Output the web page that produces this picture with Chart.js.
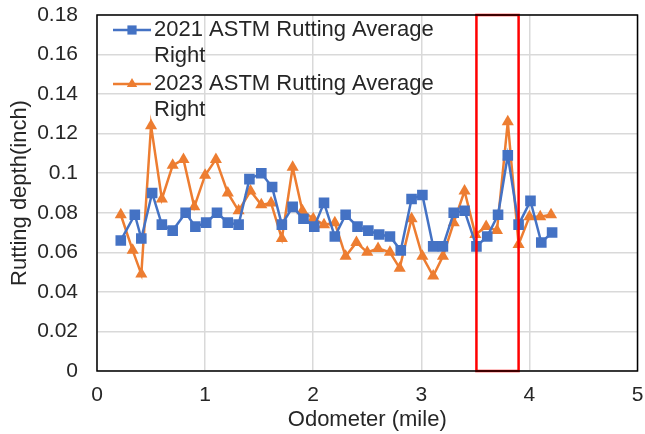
<!DOCTYPE html>
<html>
<head>
<meta charset="utf-8">
<script src="https://cdn.jsdelivr.net/npm/chart.js@4/dist/chart.umd.min.js"></script>
<style>
  html, body { margin: 0; padding: 0; background: #fff; }
  #wrap { width: 645px; height: 434px; }
</style>
</head>
<body>
<div id="wrap"><canvas id="chart"></canvas></div>
<script>
// odometer (mile) and rutting depth (inch)
const odometer2021 = [0.22, 0.35, 0.41, 0.51, 0.60, 0.70, 0.82, 0.91, 1.01, 1.11, 1.21, 1.31, 1.41, 1.52,
  1.62, 1.71, 1.81, 1.91, 2.01, 2.10, 2.20, 2.30, 2.41, 2.51, 2.61, 2.71, 2.81, 2.91, 3.01, 3.11,
  3.20, 3.30, 3.40, 3.51, 3.61, 3.71, 3.80, 3.90, 4.01, 4.11, 4.21];
const rutting2021 = [0.066, 0.079, 0.067, 0.090, 0.074, 0.071, 0.080, 0.073, 0.075, 0.080, 0.075, 0.074, 0.097, 0.100,
  0.093, 0.074, 0.083, 0.077, 0.073, 0.085, 0.068, 0.079, 0.073, 0.071, 0.069, 0.068, 0.061, 0.087, 0.089, 0.063,
  0.063, 0.080, 0.081, 0.063, 0.068, 0.079, 0.109, 0.074, 0.086, 0.065, 0.070];

const odometer2023 = [0.22, 0.33, 0.41, 0.50, 0.60, 0.70, 0.80, 0.90, 1.00, 1.10, 1.21, 1.31, 1.42, 1.52,
  1.61, 1.71, 1.81, 1.90, 2.00, 2.10, 2.20, 2.30, 2.40, 2.50, 2.60, 2.71, 2.80, 2.91, 3.01, 3.11,
  3.20, 3.30, 3.40, 3.50, 3.60, 3.70, 3.80, 3.90, 4.00, 4.10, 4.20];
const rutting2023 = [0.079, 0.061, 0.049, 0.124, 0.087, 0.104, 0.107, 0.083, 0.099, 0.107, 0.090, 0.081, 0.091, 0.084,
  0.085, 0.067, 0.103, 0.081, 0.077, 0.074, 0.075, 0.058, 0.065, 0.060, 0.062, 0.060, 0.052, 0.077, 0.058, 0.048,
  0.058, 0.075, 0.091, 0.069, 0.073, 0.071, 0.126, 0.064, 0.078, 0.078, 0.079];

const seriesLabels = ['2021 ASTM Rutting Average Right', '2023 ASTM Rutting Average Right'];
const highlightFrom = 3.51;
const highlightTo = 3.9;

const toPoints = (xs, ys) => xs.map((x, i) => ({ x: x, y: ys[i] }));

const FONT = 'Arial, "Liberation Sans", sans-serif';

// red box round the marked section
const highlightBox = {
  id: 'highlightBox',
  afterDatasetsDraw(chart) {
    const { ctx, chartArea, scales } = chart;
    const x1 = scales.x.getPixelForValue(highlightFrom);
    const x2 = scales.x.getPixelForValue(highlightTo);
    ctx.save();
    ctx.strokeStyle = '#FF0000';
    ctx.lineWidth = 2.5;
    ctx.strokeRect(x1, chartArea.top, x2 - x1, chartArea.bottom - chartArea.top);
    ctx.restore();
  }
};

// black frame round the plot
const plotFrame = {
  id: 'plotFrame',
  afterDraw(chart) {
    const { ctx, chartArea } = chart;
    ctx.save();
    ctx.strokeStyle = '#000';
    ctx.lineWidth = 1.5;
    ctx.strokeRect(chartArea.left, chartArea.top, chartArea.right - chartArea.left, chartArea.bottom - chartArea.top);
    ctx.restore();
  }
};

// legend inside the plot, with the label wrapped like in Excel
const innerLegend = {
  id: 'innerLegend',
  afterDraw(chart) {
    const { ctx, chartArea } = chart;
    ctx.save();
    ctx.font = '22px ' + FONT;
    ctx.textBaseline = 'middle';
    chart.data.datasets.forEach((ds, i) => {
      const y = chartArea.top + 15 + i * 54;
      const x0 = chartArea.left + 16;
      ctx.strokeStyle = ds.borderColor;
      ctx.lineWidth = 2.5;
      ctx.beginPath();
      ctx.moveTo(x0, y);
      ctx.lineTo(x0 + 38, y);
      ctx.stroke();
      ctx.fillStyle = ds.backgroundColor;
      Chart.helpers.drawPoint(ctx, {
        pointStyle: ds.pointStyle, radius: ds.pointRadius - 1, borderWidth: 0
      }, x0 + 19, y);
      const parts = ds.label.split(' ');
      const last = parts.pop();
      ctx.fillStyle = '#262626';
      ctx.fillText(parts.join(' '), x0 + 41, y);
      ctx.fillText(last, x0 + 41, y + 26);
    });
    ctx.restore();
  }
};

new Chart(document.getElementById('chart'), {
  type: 'scatter',
  data: {
    datasets: [
      {
        label: seriesLabels[0],
        data: toPoints(odometer2021, rutting2021),
        showLine: true,
        borderColor: '#4472C4',
        backgroundColor: '#4472C4',
        borderWidth: 2.5,
        pointStyle: 'rect',
        pointRadius: 7.5,
        pointBorderWidth: 0
      },
      {
        label: seriesLabels[1],
        data: toPoints(odometer2023, rutting2023),
        showLine: true,
        borderColor: '#ED7D31',
        backgroundColor: '#ED7D31',
        borderWidth: 2.5,
        pointStyle: 'triangle',
        pointRadius: 7,
        pointBorderWidth: 0
      }
    ]
  },
  options: {
    responsive: true,
    maintainAspectRatio: false,
    animation: false,
    layout: { padding: { top: 15, right: 3, left: 0, bottom: 0 } },
    plugins: {
      legend: { display: false },
      tooltip: { enabled: false }
    },
    scales: {
      x: {
        type: 'linear',
        min: 0,
        max: 5,
        ticks: { stepSize: 1, padding: 12, color: '#262626', font: { size: 21, family: FONT } },
        grid: { color: '#D9D9D9', lineWidth: 1.5, drawTicks: false },
        border: { display: false },
        title: { display: true, text: 'Odometer (mile)', color: '#262626', font: { size: 22, family: FONT }, padding: { top: 0, bottom: 1 } },
        afterFit(scale) {
          scale.height = 63;
          scale.paddingLeft = 0;
          scale.paddingRight = 0;
        }
      },
      y: {
        min: 0,
        max: 0.18,
        ticks: {
          stepSize: 0.02,
          padding: 19,
          color: '#262626',
          font: { size: 21, family: FONT },
          callback: v => String(parseFloat(v.toFixed(2)))
        },
        grid: { color: '#D9D9D9', lineWidth: 1.5, drawTicks: false },
        border: { display: false },
        title: { display: true, text: 'Rutting depth(inch)', color: '#262626', font: { size: 22, family: FONT }, padding: { top: 7, bottom: 0 } },
        afterFit(scale) {
          scale.width = 97;
          scale.paddingTop = 0;
          scale.paddingBottom = 0;
        }
      }
    }
  },
  plugins: [highlightBox, plotFrame, innerLegend]
});
</script>
</body>
</html>
